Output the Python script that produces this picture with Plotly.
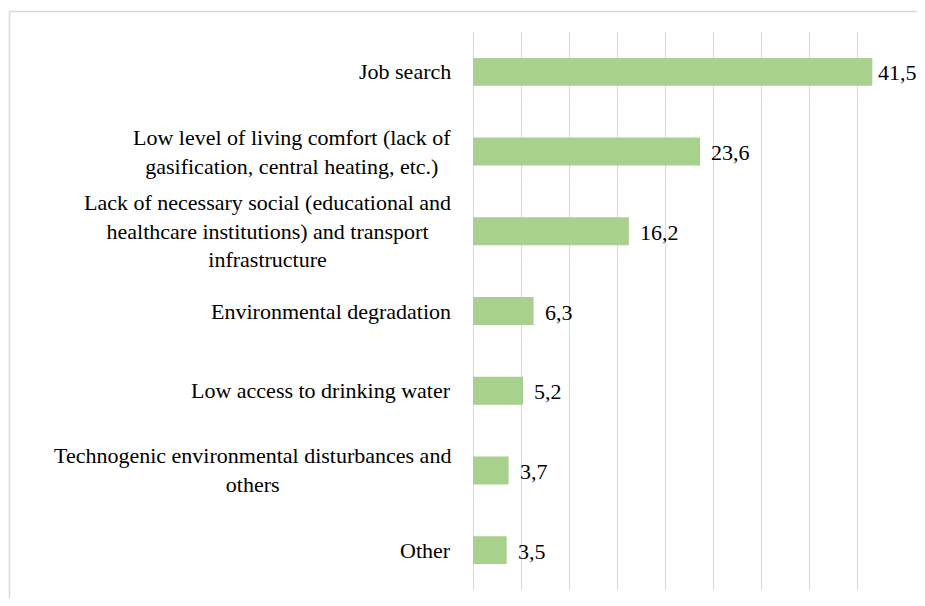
import plotly.graph_objects as go

categories = [
    "Job search",
    "Low level of living comfort (lack of<br>gasification, central heating, etc.)",
    "Lack of necessary social (educational and<br>healthcare institutions) and transport<br>infrastructure",
    "Environmental degradation",
    "Low access to drinking water",
    "Technogenic environmental disturbances and<br>others",
    "Other",
]
values = [41.5, 23.6, 16.2, 6.3, 5.2, 3.7, 3.5]
value_labels = [f"{v:.1f}".replace(".", ",") for v in values]
ids = [f"c{i}" for i in range(len(categories))]

FONT = "Liberation Serif, Times New Roman, serif"

# page has an 8px body margin, so the figure is sized/offset to compensate
W, H = 909, 590
L, R, T, B = 465, 11, 24, 8
pw, ph = W - L - R, H - T - B
XMAX = 45

fig = go.Figure(go.Bar(
    y=ids, x=values, orientation="h",
    marker=dict(color="#A9D18E", line=dict(width=0)),
    width=0.35, hoverinfo="x+y",
))

for cid, lab in zip(ids, categories):
    fig.add_annotation(
        x=0, y=cid, xref="x", yref="y", text=lab, showarrow=False,
        xanchor="right", yanchor="middle", align="center", xshift=-20,
        font=dict(family=FONT, size=22, color="#000000"),
    )

for cid, v, lab in zip(ids, values, value_labels):
    # label next to the longest bar is squeezed toward the bar (as in the original)
    shift = 4 if v > 0.9 * XMAX else 9
    fig.add_annotation(
        x=v, y=cid, xref="x", yref="y", text=lab, showarrow=False,
        xanchor="left", yanchor="middle", xshift=shift, yshift=-1,
        font=dict(family=FONT, size=22, color="#000000"),
    )

def px2x(p):
    return (p - L) / pw

def py2y(p):
    return (H - B - p) / ph

border = dict(color="#D9D9D9", width=1.5)
fig.add_shape(type="line", xref="paper", yref="paper",
              x0=px2x(1.5), x1=px2x(W), y0=py2y(3.5), y1=py2y(3.5), line=border)
fig.add_shape(type="line", xref="paper", yref="paper",
              x0=px2x(1.5), x1=px2x(1.5), y0=py2y(3.5), y1=py2y(H), line=border)

fig.update_layout(
    width=W, height=H,
    margin=dict(l=L, r=R, t=T, b=B),
    paper_bgcolor="white", plot_bgcolor="white",
    showlegend=False,
    xaxis=dict(range=[0, XMAX], dtick=5, showgrid=True, gridcolor="#D9D9D9",
               gridwidth=1, zeroline=True, zerolinecolor="#D9D9D9",
               zerolinewidth=1, showticklabels=False, showline=False, ticks=""),
    yaxis=dict(autorange="reversed", showticklabels=False, showgrid=False,
               zeroline=False, ticks="", showline=False),
)

fig.write_html("out.html")
